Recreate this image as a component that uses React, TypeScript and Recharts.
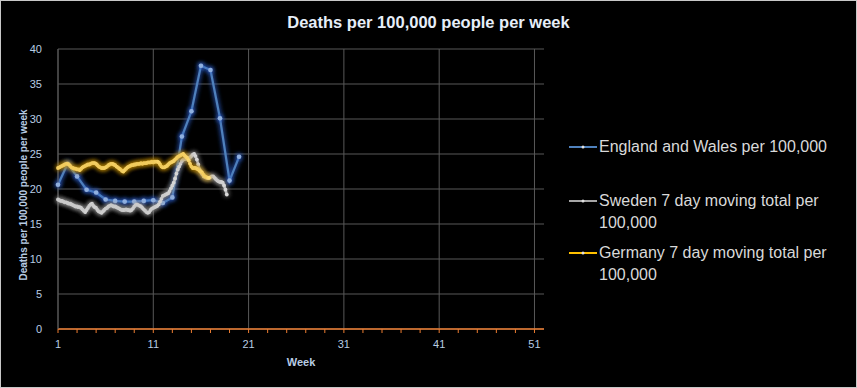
import { LineChart, Line, XAxis, YAxis, CartesianGrid, Legend } from 'recharts';

// weekly deaths per 100,000, weeks 1..20
const englandWales = [20.6, 23.6, 21.8, 19.9, 19.5, 18.5, 18.3, 18.2, 18.2, 18.3, 18.4, 18.0, 18.8, 27.5, 31.1, 37.6, 37.0, 30.1, 21.2, 24.6];

// daily 7 day moving totals, first value on week 1, one value per day
const sweden7Day = [
  18.5, 18.4, 18.3, 18.3, 18.2, 18.1, 18.1,
  18.0, 17.9, 17.9, 17.8, 17.7, 17.6, 17.5,
  17.5, 17.4, 17.4, 17.3, 17.1, 16.9, 16.7,
  17.0, 17.3, 17.6, 17.8, 17.9, 17.6, 17.4,
  17.3, 17.0, 16.8, 16.7, 16.6, 16.8, 17.0,
  17.2, 17.3, 17.5, 17.6, 17.7, 17.6, 17.5,
  17.5, 17.4, 17.3, 17.2, 17.1, 17.0, 17.0,
  17.0, 17.1, 17.0, 17.0, 16.9, 17.0, 17.2,
  17.5, 17.7, 17.8, 17.7, 17.6, 17.5, 17.3,
  17.1, 16.9, 16.7, 16.6, 16.7, 17.0, 17.2,
  17.3, 17.4, 17.5, 17.6, 17.8, 18.2, 18.6,
  19.0, 19.1, 19.2, 19.3, 19.4, 19.7, 20.1,
  20.5, 20.9, 21.5, 22.2, 22.8, 23.2, 23.6,
  24.0, 24.2, 24.3, 24.3, 24.4, 24.4, 24.5,
  24.7, 24.9, 25.0, 24.7, 24.2, 23.5, 22.8,
  22.4, 22.1, 21.8, 21.7, 21.6, 21.6, 21.6,
  21.7, 21.8, 21.8, 21.6, 21.4, 21.2, 21.1,
  21.0, 21.0, 20.9, 20.5, 19.9, 19.2,
];

const germany7Day = [
  23.0, 23.1, 23.2, 23.3, 23.4, 23.5, 23.6,
  23.6, 23.5, 23.3, 23.1, 23.0, 22.9, 22.9,
  22.8, 22.8, 22.7, 22.9, 23.1, 23.2, 23.3,
  23.4, 23.5, 23.5, 23.6, 23.7, 23.7, 23.7,
  23.6, 23.4, 23.2, 23.1, 23.0, 23.0, 23.0,
  23.1, 23.2, 23.4, 23.5, 23.6, 23.6, 23.5,
  23.4, 23.2, 23.1, 22.9, 22.8, 22.6, 22.5,
  22.7, 22.9, 23.1, 23.2, 23.3, 23.4, 23.4,
  23.5, 23.5, 23.6, 23.6, 23.6, 23.7, 23.6,
  23.7, 23.7, 23.7, 23.8, 23.8, 23.8, 23.9,
  23.8, 23.9, 23.9, 23.9, 23.8, 23.5, 23.2,
  23.1, 23.1, 23.2, 23.3, 23.5, 23.7, 23.8,
  23.9, 24.0, 24.2, 24.4, 24.6, 24.7, 24.8,
  24.9, 25.0, 24.8, 24.6, 24.4, 24.1, 23.6,
  23.2, 23.0, 23.0, 23.0, 22.9, 22.8, 22.6,
  22.5, 22.3, 22.0, 21.8, 21.7, 21.6, 21.6,
];

const seriesNames = ['England and Wales per 100,000', 'Sweden 7 day moving total per 100,000', 'Germany 7 day moving total per 100,000'];

const xTicks = [1, 3, 5, 7, 9, 11, 13, 15, 17, 19, 21, 23, 25, 27, 29, 31, 33, 35, 37, 39, 41, 43, 45, 47, 49, 51];
const xLabelTicks = [1, 11, 21, 31, 41, 51];
const yTicks = [0, 5, 10, 15, 20, 25, 30, 35, 40];

const englandData = englandWales.map((v, i) => ({ week: i + 1, value: v }));
const swedenData = sweden7Day.map((v, i) => ({ week: 1 + i / 7, value: v }));
const germanyData = germany7Day.map((v, i) => ({ week: 1 + i / 7, value: v }));

const tickColor = '#b8cce4';
const gridColor = '#595959';
const legendTops = [1, 55, 107];
const legendColors = ['#4f81bd', '#a6a6a6', '#ffc000'];

const renderLegend = (props: any) => {
  const items = [...(props.payload || [])].sort((a: any, b: any) => seriesNames.indexOf(a.value) - seriesNames.indexOf(b.value));
  return (
    <div style={{ position: 'relative', width: 290, height: 160, fontFamily: 'Liberation Sans', fontSize: 16, color: '#d9d9d9' }}>
      {items.map((entry: any, i: number) => (
        <div key={entry.value} style={{ position: 'absolute', left: 0, top: legendTops[i], display: 'flex', alignItems: 'flex-start' }}>
          <svg width={30} height={22}>
            <line x1={0} y1={11} x2={28} y2={11} stroke={legendColors[i]} strokeWidth={2} />
            <circle cx={14} cy={11} r={1.5} fill="#e0e0e0" />
          </svg>
          <div style={{ width: 255, lineHeight: '22px' }}>{entry.value}</div>
        </div>
      ))}
    </div>
  );
};

const glowFilter = (id: string, color: string, opacity: number) => (
  <filter id={id} filterUnits="userSpaceOnUse" x="0" y="0" width="857" height="388">
    <feMorphology in="SourceAlpha" operator="dilate" radius="1" result="thick" />
    <feGaussianBlur in="thick" stdDeviation="2.2" result="blur" />
    <feFlood floodColor={color} floodOpacity={opacity} result="col" />
    <feComposite in="col" in2="blur" operator="in" result="halo" />
    <feMerge>
      <feMergeNode in="halo" />
      <feMergeNode in="SourceGraphic" />
    </feMerge>
  </filter>
);

const App = () => {
  return (
    <div style={{ position: 'absolute', left: 0, top: 0, width: 857, height: 388, boxSizing: 'border-box', border: '1px solid #c8c8c8', background: '#000' }}>
      <div style={{ position: 'absolute', left: 0, top: 11, width: 855, textAlign: 'center', fontFamily: 'Liberation Sans', fontWeight: 'bold', fontSize: 16.5, lineHeight: '20px', color: '#e6eef8', zIndex: 2 }}>
        Deaths per 100,000 people per week
      </div>
      <LineChart width={855} height={386} margin={{ top: 48, right: 312, left: 37, bottom: 18 }}>
        <defs>
          {glowFilter('glowBlue', '#2a5cc8', 0.75)}
          {glowFilter('glowGray', '#9a9a9a', 0.35)}
          {glowFilter('glowYellow', '#c89000', 0.35)}
        </defs>
        <CartesianGrid stroke={gridColor} verticalValues={xLabelTicks} horizontalValues={yTicks} />
        <XAxis
          dataKey="week"
          type="number"
          domain={[1, 52]}
          ticks={xTicks}
          interval={0}
          allowDuplicatedCategory={false}
          axisLine={{ stroke: '#ed7d31', strokeWidth: 1.5 }}
          tickLine={{ stroke: '#ed7d31' }}
          tickSize={4}
          tickMargin={7}
          height={40}
          tick={{ fill: tickColor, fontSize: 11, fontFamily: 'Liberation Sans' }}
          tickFormatter={(v: number) => (xLabelTicks.includes(v) ? String(v) : '')}
          label={{
            content: () => (
              <text x={300} y={365} textAnchor="middle" fill={tickColor} fontFamily="Liberation Sans" fontWeight="bold" fontSize={11}>
                Week
              </text>
            ),
          }}
        />
        <YAxis
          type="number"
          domain={[0, 40]}
          ticks={yTicks}
          width={20}
          axisLine={{ stroke: gridColor }}
          tickLine={false}
          tickMargin={10}
          tick={{ fill: tickColor, fontSize: 11, fontFamily: 'Liberation Sans' }}
          label={{
            content: () => (
              <text x={26} y={194} transform="rotate(-90 26 194)" textAnchor="middle" fill={tickColor} fontFamily="Liberation Sans" fontWeight="bold" fontSize={10}>
                Deaths per 100,000 people per week
              </text>
            ),
          }}
        />
        <Legend layout="vertical" align="center" verticalAlign="middle" wrapperStyle={{ left: 568, top: 134, width: 290 }} content={renderLegend} />
        <Line
          data={englandData}
          dataKey="value"
          name={seriesNames[0]}
          type="linear"
          stroke="#4f81bd"
          strokeWidth={2.2}
          filter="url(#glowBlue)"
          dot={{ r: 2.3, fill: '#8fb0e0', stroke: 'none' }}
          activeDot={false}
          isAnimationActive={false}
        />
        <Line
          data={swedenData}
          dataKey="value"
          name={seriesNames[1]}
          type="linear"
          stroke="#c4c4c4"
          strokeWidth={2.6}
          filter="url(#glowGray)"
          dot={{ r: 1.9, fill: '#d9d9d9', stroke: 'none' }}
          activeDot={false}
          isAnimationActive={false}
        />
        <Line
          data={germanyData}
          dataKey="value"
          name={seriesNames[2]}
          type="linear"
          stroke="#fdc94a"
          strokeWidth={2.8}
          filter="url(#glowYellow)"
          dot={{ r: 1.9, fill: '#ffdf78', stroke: 'none' }}
          activeDot={false}
          isAnimationActive={false}
        />
      </LineChart>
    </div>
  );
};

export default App;
